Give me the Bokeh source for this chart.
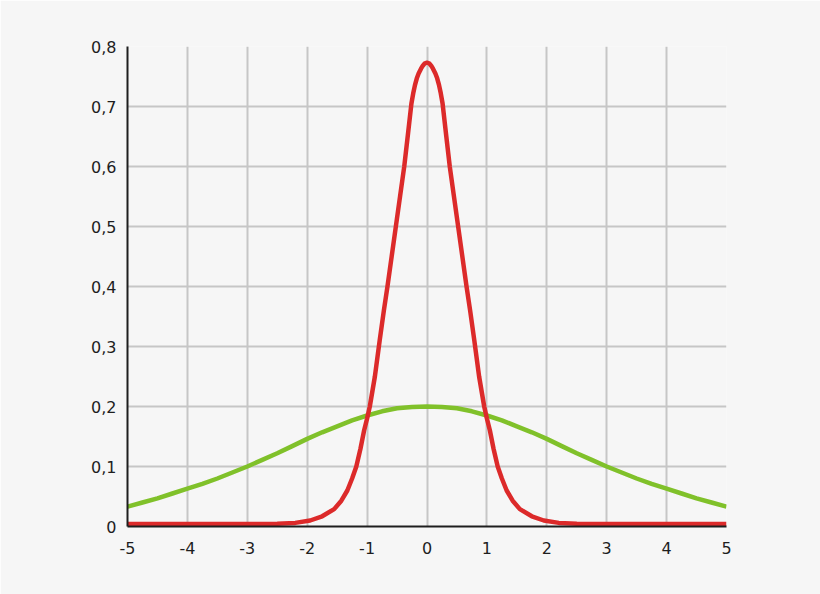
from bokeh.plotting import figure
from bokeh.models import Range1d, FixedTicker
from bokeh.embed import file_html
from bokeh.resources import INLINE

# values
red_x = [-5.0, -4.0, -3.0, -2.5, -2.2, -1.95, -1.75, -1.55, -1.43, -1.33, -1.25, -1.18, -1.11, -1.05, -1.0,
         -0.955, -0.87, -0.79, -0.72, -0.66, -0.59, -0.52, -0.45, -0.38, -0.32, -0.26, -0.23, -0.20, -0.17,
         -0.14, -0.10, -0.07, -0.035,
         0.0,
         0.035, 0.07, 0.10, 0.14, 0.17, 0.20, 0.23, 0.26, 0.32, 0.38, 0.45, 0.52, 0.59, 0.66, 0.72, 0.79,
         0.87, 0.955,
         1.0, 1.05, 1.11, 1.18, 1.25, 1.33, 1.43, 1.55, 1.75, 1.95, 2.2, 2.5, 3.0, 4.0, 5.0]
red_y = [0.004, 0.004, 0.004, 0.0045, 0.006, 0.010, 0.017, 0.029, 0.043, 0.06, 0.08, 0.10, 0.13, 0.16, 0.18,
         0.20, 0.25, 0.31, 0.36, 0.40, 0.45, 0.50, 0.55, 0.60, 0.652, 0.705, 0.722, 0.736, 0.747,
         0.755, 0.763, 0.768, 0.772,
         0.773,
         0.772, 0.768, 0.763, 0.755, 0.747, 0.736, 0.722, 0.705, 0.652, 0.60, 0.55, 0.50, 0.45, 0.40, 0.36, 0.31,
         0.25, 0.20,
         0.18, 0.16, 0.13, 0.10, 0.08, 0.06, 0.043, 0.029, 0.017, 0.010, 0.006, 0.0045, 0.004, 0.004, 0.004]

green_x = [-5.0, -4.75, -4.5, -4.25, -4.0, -3.75, -3.5, -3.25, -3.0, -2.75, -2.5, -2.25, -2.0, -1.75,
           -1.5, -1.25, -1.0, -0.75, -0.5, -0.25, 0.0,
           0.25, 0.5, 0.75, 1.0, 1.25, 1.5, 1.75, 2.0, 2.25, 2.5, 2.75, 3.0, 3.25, 3.5, 3.75,
           4.0, 4.25, 4.5, 4.75, 5.0]
green_y = [0.033, 0.040, 0.047, 0.055, 0.063, 0.071, 0.080, 0.090, 0.100, 0.111, 0.122, 0.134, 0.146, 0.157,
           0.167, 0.177, 0.185, 0.192, 0.197, 0.199, 0.200,
           0.199, 0.197, 0.192, 0.185, 0.177, 0.167, 0.157, 0.146, 0.134, 0.122, 0.111, 0.100, 0.090, 0.080, 0.071,
           0.063, 0.055, 0.047, 0.040, 0.033]

x_ticks = [-5, -4, -3, -2, -1, 0, 1, 2, 3, 4, 5]
x_tick_labels = ["-5", "-4", "-3", "-2", "-1", "0", "1", "2", "3", "4", "5"]
y_ticks = [0, 0.1, 0.2, 0.3, 0.4, 0.5, 0.6, 0.7, 0.8]
y_tick_labels = ["0", "0,1", "0,2", "0,3", "0,4", "0,5", "0,6", "0,7", "0,8"]

BG = "#f6f6f6"

p = figure(width=820, height=594, x_range=Range1d(-5, 5), y_range=Range1d(0, 0.8),
           output_backend="svg", toolbar_location=None,
           min_border_left=127, min_border_right=94, min_border_top=46, min_border_bottom=68)
p.background_fill_color = BG
p.border_fill_color = BG
p.outline_line_color = None

p.xaxis.ticker = FixedTicker(ticks=x_ticks)
p.yaxis.ticker = FixedTicker(ticks=y_ticks)
p.xaxis.major_label_overrides = dict(zip(x_ticks, x_tick_labels))
p.yaxis.major_label_overrides = dict(zip(y_ticks, y_tick_labels))

for ax in (p.xaxis, p.yaxis):
    ax.axis_line_color = "#1e1e1e"
    ax.axis_line_width = 2
    ax.major_tick_in = 0
    ax.major_tick_out = 0
    ax.minor_tick_line_color = None
    ax.major_label_text_font = "DejaVu Sans"
    ax.major_label_text_font_size = "16px"
    ax.major_label_text_color = "#1e1e1e"
p.xaxis.major_label_standoff = 15
p.yaxis.major_label_standoff = 11

p.grid.grid_line_color = "#c6c6c6"
p.grid.grid_line_width = 2

p.line(green_x, green_y, line_color="#80c12a", line_width=4.5, line_join="round")
p.line(red_x, red_y, line_color="#dc2a2a", line_width=4.5, line_join="round")

open("out.html", "w").write(file_html(p, INLINE))
